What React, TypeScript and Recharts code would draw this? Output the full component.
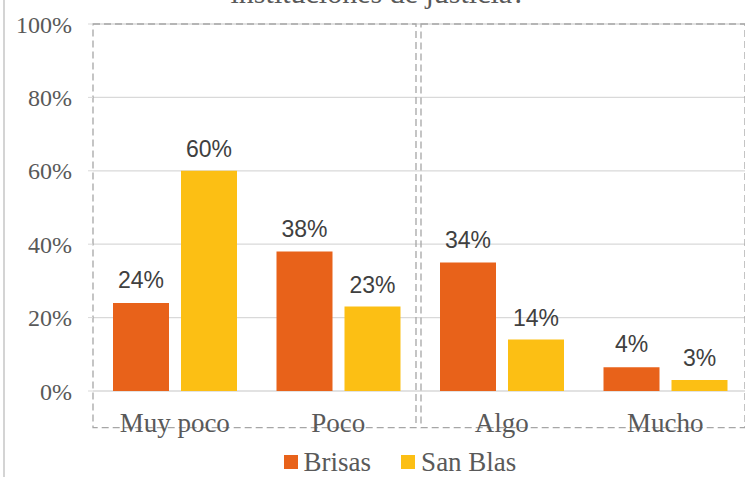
import React from 'react';
import {
  BarChart,
  Bar,
  XAxis,
  YAxis,
  CartesianGrid,
  Legend,
  LabelList,
  ReferenceArea,
} from 'recharts';

const title = 'instituciones de justicia?';
const categories = ['Muy poco', 'Poco', 'Algo', 'Mucho'];
const brisas = [24, 38, 35, 6.5];
const sanBlas = [60, 23, 14, 3];
const brisasLabels = ['24%', '38%', '34%', '4%'];
const sanBlasLabels = ['60%', '23%', '14%', '3%'];
const yTicks = [0, 20, 40, 60, 80, 100];
const seriesNames = ['Brisas', 'San Blas'];

const ORANGE = '#E8621A';
const YELLOW = '#FCBF14';
const SERIF = '"Liberation Serif", "Times New Roman", serif';
const SANS = '"Liberation Sans", Arial, sans-serif';

const chartData = categories.map((cat, i) => ({
  cat,
  brisas: brisas[i],
  sanBlas: sanBlas[i],
  brisasLabel: brisasLabels[i],
  sanBlasLabel: sanBlasLabels[i],
}));

// two dashed group boxes (first two and last two categories)
const groups = [
  { from: categories[0], to: categories[1], inL: 0, inR: 4 },
  { from: categories[2], to: categories[3], inL: 1, inR: 2 },
];

const dashedBox = (inL: number, inR: number) => (p: any) => (
  <rect
    x={p.x + inL}
    y={p.y}
    width={p.width - inL - inR}
    height={p.height}
    fill="none"
    stroke="#a6a6a6"
    strokeWidth={1.3}
    strokeDasharray="7 4"
  />
);

const LegendContent = () => (
  <div
    style={{
      height: 35,
      paddingTop: 5,
      paddingLeft: 53,
      boxSizing: 'border-box',
      display: 'flex',
      justifyContent: 'center',
      alignItems: 'center',
      fontFamily: SERIF,
      fontSize: 27,
      color: '#595959',
    }}
  >
    {seriesNames.map((name, i) => (
      <div key={name} style={{ display: 'flex', alignItems: 'center', marginLeft: i ? 30 : 0 }}>
        <div style={{ width: 14, height: 14, background: i ? YELLOW : ORANGE, marginRight: 6 }} />
        <span>{name}</span>
      </div>
    ))}
  </div>
);

export default function App() {
  return (
    <div style={{ position: 'absolute', left: 0, top: 0, width: 745, height: 477, overflow: 'hidden', background: '#fff' }}>
      <div style={{ position: 'absolute', left: 3, top: 0, width: 2, height: 477, background: '#d4d4d4' }} />
      <svg style={{ position: 'absolute', left: 0, top: 0 }} width={745} height={20}>
        <text x={378} y={3} textAnchor="middle" fontFamily={SERIF} fontSize={30} fill="#595959">
          {title}
        </text>
      </svg>
      <div style={{ position: 'absolute', left: 0, top: 0 }}>
        <BarChart
          width={747}
          height={477}
          data={chartData}
          margin={{ top: 24, right: 0, bottom: 0, left: 0 }}
          barSize={56}
          barGap={12}
        >
          <CartesianGrid vertical={false} stroke="#d9d9d9" strokeWidth={1.3} />
          <XAxis
            dataKey="cat"
            height={51}
            tickLine={false}
            axisLine={false}
            tickSize={0}
            tickMargin={22}
            interval={0}
            tick={{ fontFamily: SERIF, fontSize: 27, fill: '#595959' }}
          />
          <YAxis
            width={93}
            domain={[0, 100]}
            ticks={yTicks}
            tickFormatter={(v) => `${v}%`}
            axisLine={false}
            tickLine={{ stroke: '#d9d9d9' }}
            tickSize={5}
            tickMargin={16}
            tick={{ fontFamily: SERIF, fontSize: 24, fill: '#595959' }}
          />
          {groups.map((g) => (
            <ReferenceArea
              key={g.from}
              x1={g.from}
              x2={g.to}
              y1={-10}
              y2={100}
              ifOverflow="visible"
              shape={dashedBox(g.inL, g.inR)}
            />
          ))}
          <Legend
            verticalAlign="bottom"
            height={35}
            content={<LegendContent />}
            wrapperStyle={{ left: 0, width: 747 }}
          />
          <Bar dataKey="brisas" name="Brisas" fill={ORANGE} isAnimationActive={false}>
            <LabelList
              dataKey="brisasLabel"
              position="top"
              offset={15}
              style={{ fontFamily: SANS, fontSize: 23, fill: '#404040' }}
            />
          </Bar>
          <Bar dataKey="sanBlas" name="San Blas" fill={YELLOW} isAnimationActive={false}>
            <LabelList
              dataKey="sanBlasLabel"
              position="top"
              offset={14}
              style={{ fontFamily: SANS, fontSize: 23, fill: '#404040' }}
            />
          </Bar>
        </BarChart>
      </div>
    </div>
  );
}
